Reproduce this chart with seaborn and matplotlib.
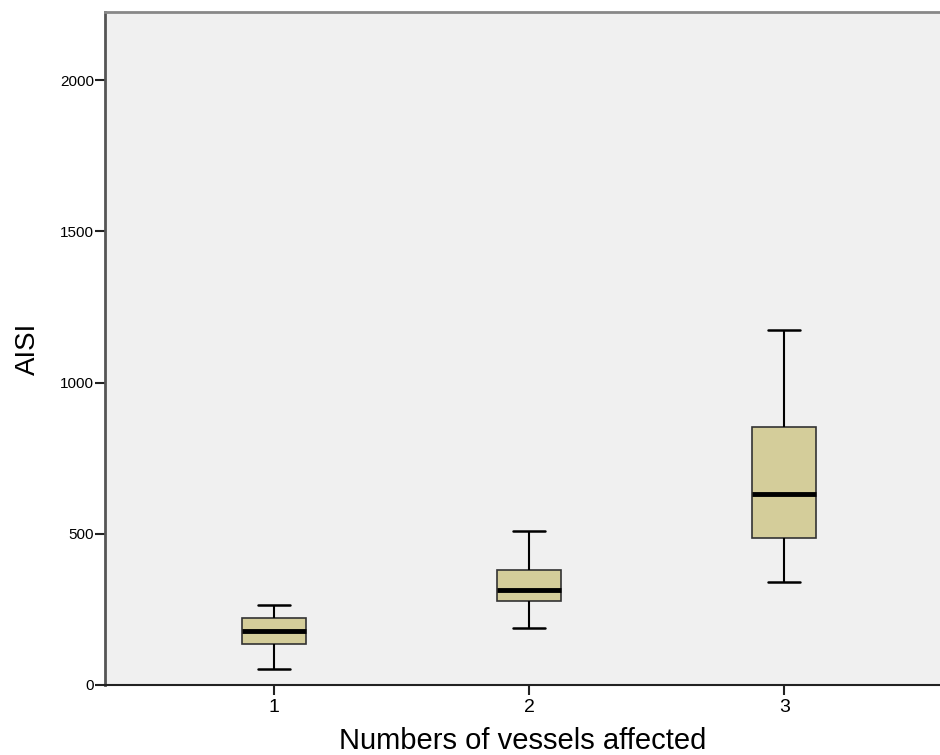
import numpy as np
import pandas as pd
import seaborn as sns
import matplotlib
matplotlib.use('Agg')
import matplotlib.pyplot as plt

# five-number summaries (min, Q1, median, Q3, max)
vessels = ['1', '2', '3']
aisi_1 = [53, 136, 178, 221, 264]
aisi_2 = [188, 278, 314, 380, 509]
aisi_3 = [340, 486, 631, 853, 1174]

df = pd.DataFrame({
    'vessels': np.repeat(vessels, 5),
    'AISI': aisi_1 + aisi_2 + aisi_3,
})

sns.set_style('white')
plt.rcParams['font.family'] = ['Liberation Sans', 'DejaVu Sans']
plt.rcParams['text.color'] = 'black'
plt.rcParams['axes.labelcolor'] = 'black'
plt.rcParams['xtick.labelcolor'] = 'black'
plt.rcParams['ytick.labelcolor'] = 'black'

fig = plt.figure(figsize=(9.4, 7.55), dpi=100)
ax = fig.add_axes([105 / 940, 70 / 755, 1 - 105 / 940, 673 / 755])
ax.set_facecolor('#f0f0f0')

sns.boxplot(data=df, x='vessels', y='AISI', order=vessels, ax=ax,
            color='#d4cd9a', saturation=1, width=0.25, whis=(0, 100),
            linewidth=1.5, linecolor='black',
            medianprops={'color': 'black', 'linewidth': 3.5},
            capprops={'color': 'black', 'linewidth': 1.8},
            whiskerprops={'color': 'black', 'linewidth': 1.5},
            boxprops={'edgecolor': '#333333', 'linewidth': 1.2})

ax.set_ylim(0, 2225)
ax.set_xlim(-0.663, 2.61)
ax.set_yticks([0, 500, 1000, 1500, 2000])

ax.spines['left'].set_color('#555555')
ax.spines['left'].set_linewidth(2)
ax.spines['top'].set_color('#888888')
ax.spines['top'].set_linewidth(2)
ax.spines['bottom'].set_color('#222222')
ax.spines['bottom'].set_linewidth(1.5)
ax.spines['right'].set_visible(False)

ax.tick_params(axis='y', direction='out', length=7, width=1.5, color='#222222',
               labelsize=11, left=True, pad=1)
ax.tick_params(axis='x', direction='out', length=7, width=1.5, color='#222222',
               labelsize=14, bottom=True, pad=3)

ax.set_xlabel('Numbers of vessels affected', fontsize=21, labelpad=8)
ax.set_ylabel('AISI', fontsize=20, labelpad=14)

fig.savefig('out.png', dpi=100)
